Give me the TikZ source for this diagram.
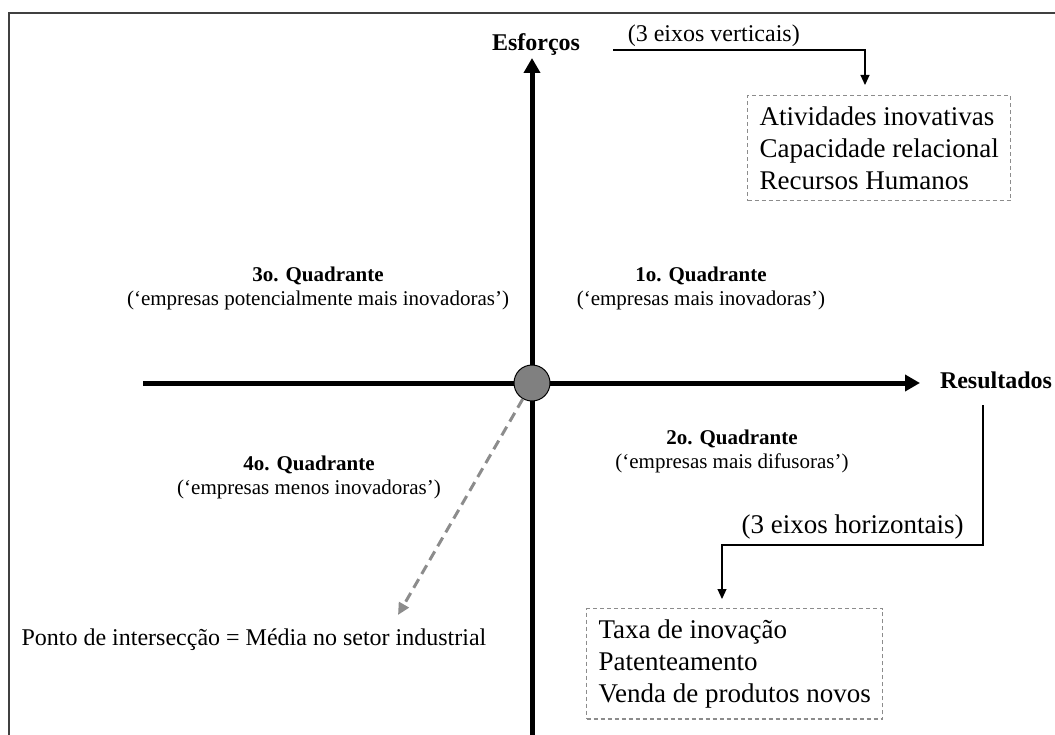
\documentclass[tikz,border=0pt]{standalone}
\usepackage{fontspec}
\setmainfont{Liberation Serif}
\usetikzlibrary{arrows.meta,positioning}

\begin{document}
\begin{tikzpicture}[x=1pt,y=-1pt,
        axis/.style={line width=5pt,-{Triangle[length=15pt,width=16pt]}},
        link/.style={line width=1.1pt,-{Triangle[length=10pt,width=9pt]}},
        listbox/.style={draw=black!45,dash pattern=on 4pt off 3pt,line width=1.2pt,align=left,anchor=north west,inner xsep=12pt,inner ysep=11pt,font=\fontsize{27}{32}\selectfont},
        quad/.style={align=center,font=\fontsize{21}{24}\selectfont}]

        \useasboundingbox (0,0) rectangle (1055,735);

        % Frame
        \draw[line width=1.5pt,black!75] (9,735) -- (9,13) -- (1055,13);

        % Define coordinates for the axes
        \coordinate (ybot) at (532,735);
        \coordinate (ytop) at (532,58);
        \coordinate (xleft) at (143,383);
        \coordinate (xright) at (920,383);

        % Draw the axes and the intersection point
        \draw[axis] (ybot) -- (ytop);
        \draw[axis] (xleft) -- (xright);
        \node[circle,draw,fill=black!50,line width=1pt,minimum size=36pt,inner sep=0pt] (origin) at (532,383) {};

        % Axis labels
        \node[font=\fontsize{24}{28}\selectfont\bfseries] (esf) at (536,45) {Esforços};
        \node[font=\fontsize{24}{28}\selectfont\bfseries] (res) at (996,380) {Resultados};

        % Lists of indicators
        \node[listbox] (vbox) at (747,95) {Atividades inovativas\\Capacidade relacional\\Recursos Humanos};
        \node[listbox] (hbox) at (586,608) {Taxa de inovação\\Patenteamento\\Venda de produtos novos};

        % Connectors to the lists
        \coordinate (vstart) at (613,50);
        \coordinate (vend) at (865,85);
        \draw[link] (vstart) -| node[pos=0.2,above,font=\fontsize{24}{28}\selectfont] (vlabel) {(3 eixos verticais)} (vend);

        \coordinate (hstart) at (983,405);
        \coordinate (hturn) at (983,545);
        \coordinate (hend) at (722,599);
        \draw[link] (hstart) -- (hturn) -| node[pos=0.25,above=2pt,font=\fontsize{27}{32}\selectfont] (hlabel) {(3 eixos horizontais)} (hend);

        % Quadrant labels
        \node[quad] (q3) at (318,288) {\textbf{3o. Quadrante}\\(‘empresas potencialmente mais inovadoras’)};
        \node[quad] (q1) at (701,288) {\textbf{1o. Quadrante}\\(‘empresas mais inovadoras’)};
        \node[quad] (q4) at (309,477) {\textbf{4o. Quadrante}\\(‘empresas menos inovadoras’)};
        \node[quad] (q2) at (732,451) {\textbf{2o. Quadrante}\\(‘empresas mais difusoras’)};

        % Intersection point meaning
        \coordinate (ptip) at (398,615);
        \draw[black!45,line width=3pt,dash pattern=on 10pt off 6pt,-{Triangle[length=12pt,width=11pt]}] (origin) -- (ptip);
        \node[anchor=west,font=\fontsize{24}{28}\selectfont] (ponto) at (18,640) {Ponto de intersecção = Média no setor industrial};

\end{tikzpicture}
\end{document}
